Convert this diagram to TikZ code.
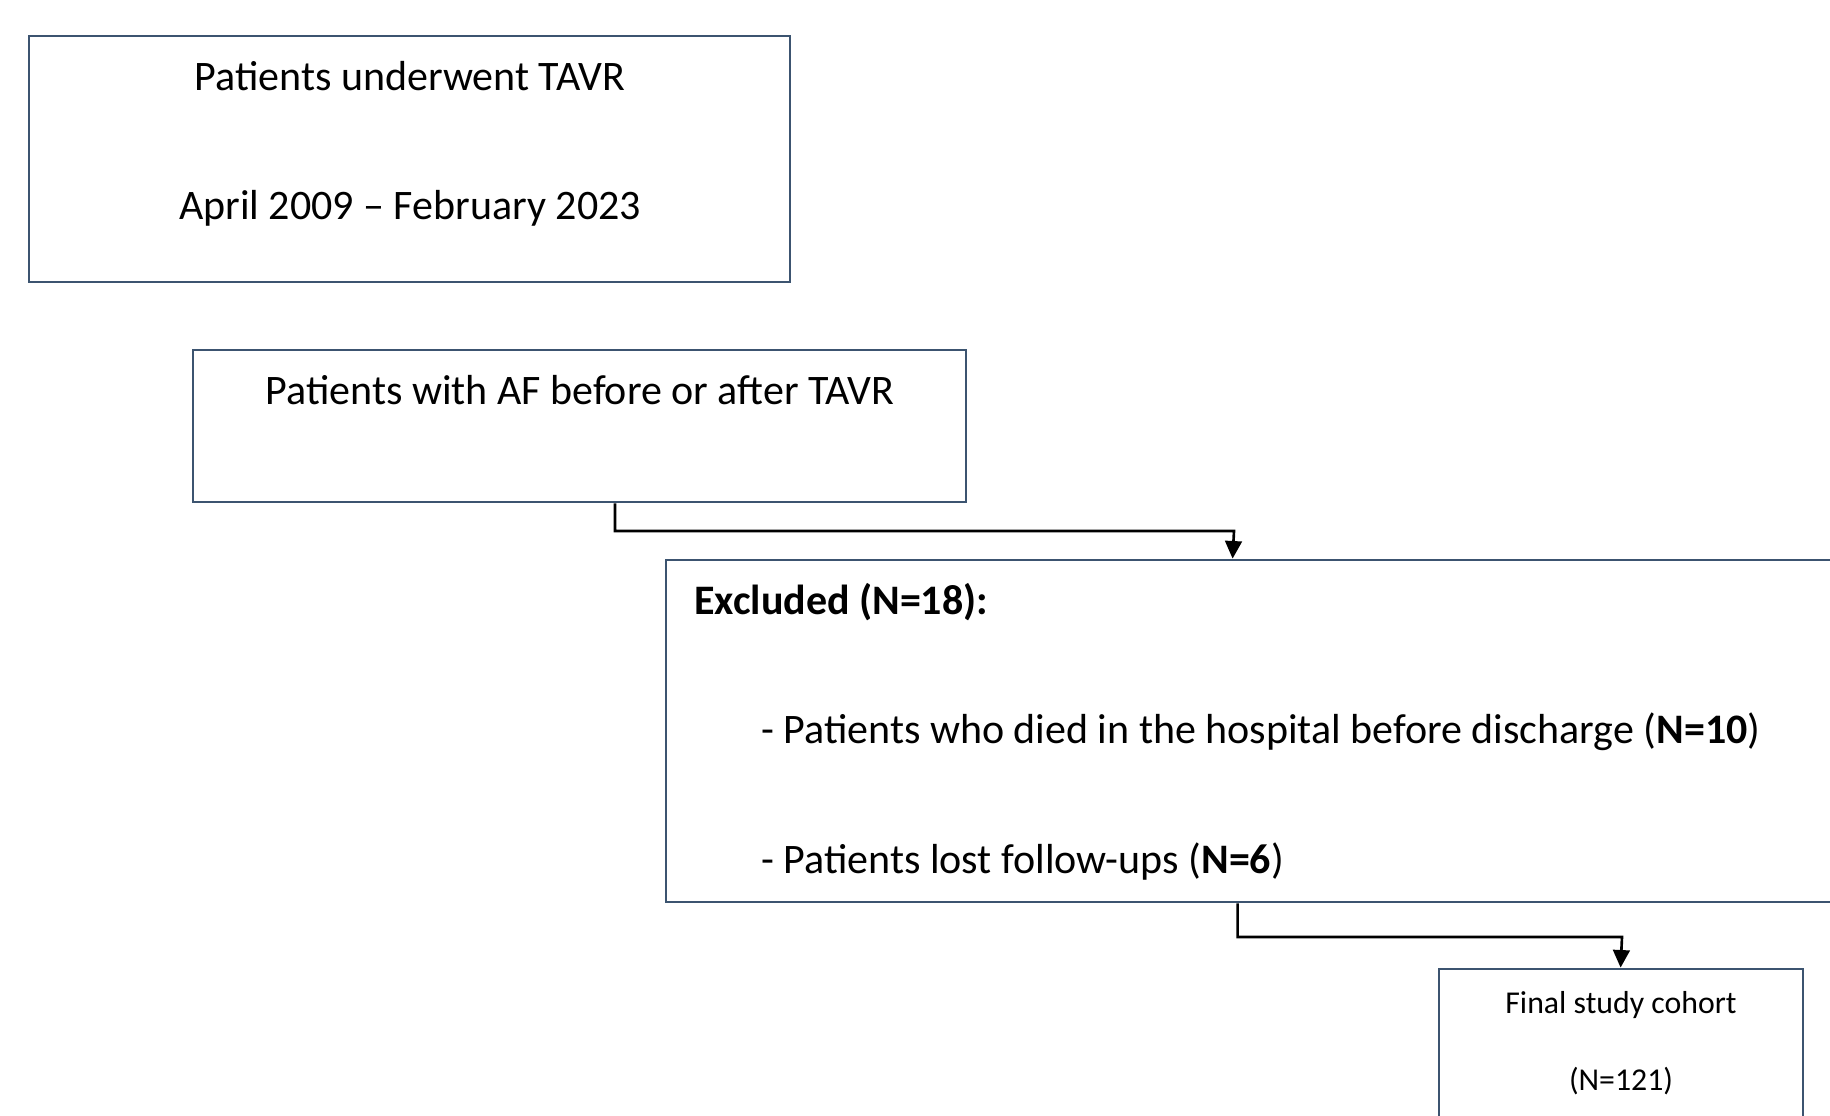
\documentclass[tikz,border=0pt]{standalone}
\usepackage{fontspec}
\setmainfont{Carlito}
\usetikzlibrary{fit,calc,arrows.meta}
\definecolor{boxline}{HTML}{3C5470}
\tikzset{
  box/.style={draw=boxline, line width=1.6pt, inner sep=0pt, fill=none},
  txt/.style={inner sep=0pt, font=\fontsize{23.9pt}{28pt}\selectfont},
  smalltxt/.style={inner sep=0pt, font=\fontsize{18.1pt}{21pt}\selectfont},
  arr/.style={draw=black, line width=1.5pt, -{Triangle[length=10pt,width=9.5pt]}}
}
\begin{document}
\begin{tikzpicture}[x=0.02cm,y=-0.02cm]
\useasboundingbox (0,0) rectangle (1830,1116);
\clip (0,0) rectangle (1830,1116);
\fill[white] (0,0) rectangle (1830,1116);
% boxes
\node[box, fit={(29,36) (790,282)}] (box1) {};
\node[box, fit={(193,350) (966,502)}] (box2) {};
\node[box, fit={(666,560) (1900,902)}] (box3) {};
\node[box, fit={(1439,969) (1803,1160)}] (box4) {};
% texts
\node[txt, anchor=base] (t1a) at (410,90) {Patients underwent TAVR};
\node[txt, anchor=base] (t1b) at (410,219) {April 2009 -- February 2023};
\node[txt, anchor=base] (t2) at (580,404) {Patients with AF before or after TAVR};
\node[txt, anchor=base west] (t3a) at (694,614) {\textbf{Excluded (N=18):}};
\node[txt, anchor=base west] (t3b) at (761,743) {- Patients who died in the hospital before discharge (\textbf{N=10})};
\node[txt, anchor=base west] (t3c) at (761,873) {- Patients lost follow-ups (\textbf{N=6})};
\node[smalltxt, anchor=base] (t4a) at (1621,1013) {Final study cohort};
\node[smalltxt, anchor=base] (t4b) at (1621,1090) {(N=121)};
% connectors
\coordinate (m1) at (1234,531);
\coordinate (m2) at (1622,937);
\draw[arr] ($(box2.south)+(35.5,0)$) |- (m1) -- ($(box3.north west)+(568,0)$);
\draw[arr] ($(box3.south west)+(573,0)$) |- (m2) -- ($(box4.north west)+(183,0)$);
\end{tikzpicture}
\end{document}
